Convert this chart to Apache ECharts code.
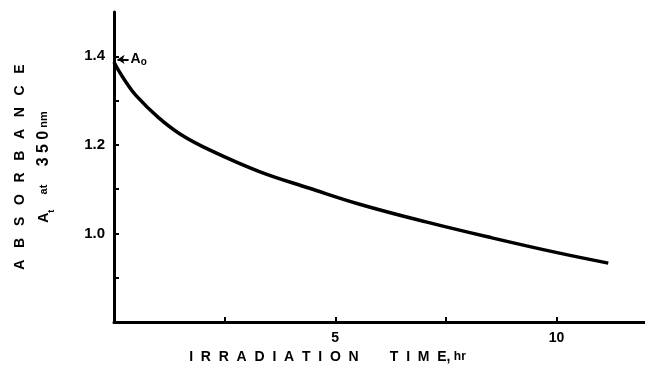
<!DOCTYPE html>
<html>
<head>
<meta charset="utf-8">
<script src="https://cdn.jsdelivr.net/npm/echarts@6/dist/echarts.min.js"></script>
<style>
html,body{margin:0;padding:0;background:#fff;}
#c{width:645px;height:369px;}
</style>
</head>
<body>
<div id="c"></div>
<script>
// Irradiation time (hr)
var timeHr = [0, 0.08, 0.25, 0.5, 1.0, 1.5, 2.17, 3.3, 4.42, 5.55, 7.05, 8.54, 10.04, 11.17];
// Absorbance A_t at 350 nm
var absorbance = [1.387, 1.372, 1.345, 1.311, 1.262, 1.224, 1.188, 1.139, 1.102, 1.066, 1.026, 0.990, 0.956, 0.933];
// Ticks and labelled ticks
var xTickValues = [0, 2.5, 5, 7.5, 10];
var xTickLabels = ['5', '10'];
var yTickValues = [0.8, 0.9, 1.0, 1.1, 1.2, 1.3, 1.4];
var yTickLabels = ['1.0', '1.2', '1.4'];
// A0 marker
var a0Value = 1.393;
var a0Arrow = [0.08, 0.33];

var FONT = '"Liberation Sans", Arial, sans-serif';
var chart = echarts.init(document.getElementById('c'), null, {renderer: 'canvas'});

var seriesData = timeHr.map(function (t, i) { return [t, absorbance[i]]; });

chart.setOption({
  animation: false,
  backgroundColor: '#fff',
  grid: {left: 113.5, right: 0, top: 12, bottom: 47, containLabel: false},
  xAxis: {
    type: 'value', min: 0, max: 12, interval: 2.5,
    axisLine: {show: true, lineStyle: {color: '#000', width: 3}},
    axisTick: {show: true, inside: true, length: 5, customValues: xTickValues, lineStyle: {color: '#000', width: 2}},
    splitLine: {show: false},
    axisLabel: {
      color: '#000', fontFamily: FONT, fontWeight: 'bold', fontSize: 14, margin: 9,
      customValues: xTickValues,
      formatter: function (v) {
        var s = String(Math.round(v * 10) / 10);
        return xTickLabels.indexOf(s) >= 0 ? s : '';
      }
    },
    name: 'I  R  R  A  D  I  A  T  I  O  N        T  I  M  E,{hr| hr}',
    nameLocation: 'middle',
    nameGap: 28,
    nameTextStyle: {
      color: '#000', fontFamily: FONT, fontWeight: 'bold', fontSize: 14,
      padding: [0, 104, 0, 0],
      rich: {hr: {fontFamily: FONT, fontWeight: 'bold', fontSize: 12, color: '#000'}}
    }
  },
  yAxis: {
    type: 'value', min: 0.8, max: 1.5, interval: 0.1,
    axisLine: {show: true, lineStyle: {color: '#000', width: 3}},
    axisTick: {show: true, inside: true, length: 5, customValues: yTickValues, lineStyle: {color: '#000', width: 2}},
    splitLine: {show: false},
    axisLabel: {
      color: '#000', fontFamily: FONT, fontWeight: 'bold', fontSize: 15, margin: 9,
      padding: [0, 0, 6, 0],
      customValues: yTickValues,
      formatter: function (v) {
        var s = (Math.round(v * 10) / 10).toFixed(1);
        return yTickLabels.indexOf(s) >= 0 ? s : '';
      }
    },
    name: '{big|A   B   S   O   R   B   A   N   C   E}\n{big|A}{sub|t}{sm|     at      }{dig|3 5 0}{sm| }{nm|nm}',
    nameLocation: 'middle',
    nameRotate: 90,
    nameGap: 58,
    nameTextStyle: {
      color: '#000', fontFamily: FONT, fontWeight: 'bold', fontSize: 14, lineHeight: 24,
      rich: {
        big: {fontFamily: FONT, fontWeight: 'bold', fontSize: 14, color: '#000', lineHeight: 24},
        dig: {fontFamily: FONT, fontWeight: 'bold', fontSize: 16, color: '#000', lineHeight: 24},
        sub: {fontFamily: FONT, fontWeight: 'bold', fontSize: 9, color: '#000', verticalAlign: 'bottom', lineHeight: 24},
        sm: {fontFamily: FONT, fontWeight: 'bold', fontSize: 11, color: '#000', lineHeight: 24},
        nm: {fontFamily: FONT, fontWeight: 'bold', fontSize: 11, color: '#000', lineHeight: 24}
      }
    }
  },
  series: [{
    type: 'line',
    data: seriesData,
    smooth: 0.4,
    showSymbol: false,
    symbol: 'none',
    lineStyle: {color: '#000', width: 3.5},
    markLine: {
      silent: true,
      symbolSize: [7, 7],
      lineStyle: {color: '#000', width: 2, type: 'solid'},
      label: {
        show: true, position: 'end', distance: 2,
        formatter: '{a|A}{o|o}',
        rich: {
          a: {fontFamily: FONT, fontWeight: 'bold', fontSize: 14, color: '#000'},
          o: {fontFamily: FONT, fontWeight: 'bold', fontSize: 10, color: '#000', padding: [6, 0, 0, 0]}
        }
      },
      data: [[
        {coord: [a0Arrow[0], a0Value], symbol: 'arrow'},
        {coord: [a0Arrow[1], a0Value], symbol: 'none'}
      ]]
    }
  }]
});
</script>
</body>
</html>
